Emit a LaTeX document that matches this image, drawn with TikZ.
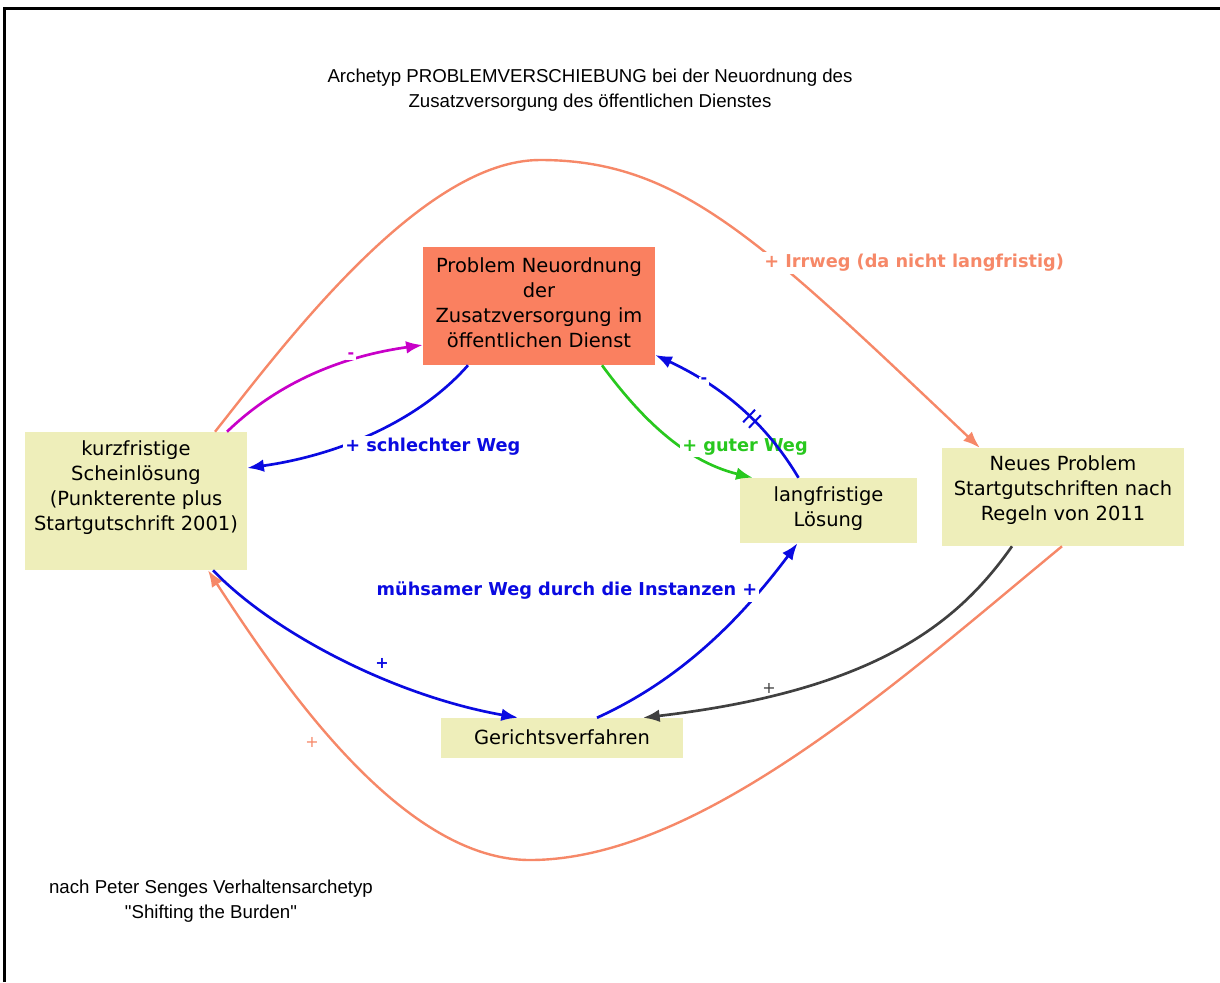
\documentclass[tikz,border=0pt]{standalone}
\usepackage{fontspec}
\setmainfont{DejaVu Sans}
\newfontfamily\tahoma{Liberation Sans}
\usetikzlibrary{arrows.meta,calc,decorations.markings}
\definecolor{salmon}{RGB}{246,136,104}
\definecolor{coral}{RGB}{250,128,96}
\definecolor{pale}{RGB}{238,238,186}
\definecolor{cblue}{RGB}{10,10,225}
\definecolor{cgreen}{RGB}{40,200,30}
\definecolor{cmag}{RGB}{200,0,200}
\definecolor{cgray}{RGB}{64,64,64}
\begin{document}
\begin{tikzpicture}[x=0.75pt,y=-0.75pt,
 box/.style={inner sep=0pt, draw=none},
 ntext/.style={font=\fontsize{14.6}{18.75}\selectfont, align=center, inner sep=0pt},
 conn/.style={line width=2pt, -{Latex[length=12.5pt,width=9.5pt]}},
 sal/.style={line width=1.8pt, draw=salmon, -{Latex[length=12.5pt,width=9.5pt]}},
 lbl/.style={font=\fontsize{13.3}{16}\selectfont\bfseries, fill=white, inner sep=1.5pt},
 sgn/.style={font=\fontsize{12}{13}\selectfont\bfseries, inner sep=1pt},
 ttl/.style={font=\tahoma\fontsize{14}{18.75}\selectfont, align=center, inner sep=0pt}
]
\useasboundingbox (0,0) rectangle (1220,982);
\draw[line width=2pt] (4.7,982) -- (4.7,8.7) -- (1220,8.7);

% title and footnote
\node[ttl] (title) at (590,90.5) {Archetyp PROBLEMVERSCHIEBUNG bei der Neuordnung des\\Zusatzversorgung des öffentlichen Dienstes};
\node[ttl] (foot) at (211,901) {nach Peter Senges Verhaltensarchetyp\\"Shifting the Burden"};

% boxes
\node[box, fill=coral, minimum width=174pt, minimum height=88.5pt] (P) at (539,306) {};
\node[box, fill=pale, minimum width=166.5pt, minimum height=103.5pt] (K) at (136,501) {};
\node[box, fill=pale, minimum width=132.75pt, minimum height=48.75pt] (L) at (828.5,510.5) {};
\node[box, fill=pale, minimum width=181.5pt, minimum height=73.5pt] (N) at (1063,497) {};
\node[box, fill=pale, minimum width=181.5pt, minimum height=30pt] (G) at (562,738) {};

\node[ntext] (Pt) at (539,302.5) {Problem Neuordnung\\der\\Zusatzversorgung im\\öffentlichen Dienst};
\node[ntext] (Kt) at (136,487.5) {kurzfristige\\Scheinlösung\\(Punkterente plus\\Startgutschrift 2001)};
\node[ntext] (Lt) at (828.5,508.5) {langfristige\\Lösung};
\node[ntext] (Nt) at (1063,490.5) {Neues Problem\\Startgutschriften nach\\Regeln von 2011};
\node[ntext] (Gt) at (562,737) {Gerichtsverfahren};

% big salmon loops
\draw[sal] ($(K.north)+(79,0)$) .. controls (280,350) and (420,160) .. (540,160)
  .. controls (680,160) and (760,240) .. ($(N.north west)+(38,0)$);
\node[lbl, text=salmon, anchor=west] (irr) at (762,263) {+ Irrweg (da nicht langfristig)};

\draw[sal] ($(N.south)+(-1,0)$) .. controls (900,680) and (700,860) .. (530,860)
  .. controls (400,860) and (280,680) .. ($(K.south)+(72,0)$);
\node[sgn, text=salmon, font=\fontsize{12}{13}\selectfont] (s9) at (312,742) {+};

% magenta
\draw[conn, cmag] ($(K.north)+(91,0)$) .. controls (270,390) and (330,358) .. ($(P.west)+(0,39)$);
\node[sgn, text=cmag, fill=white] (s1) at (351,356) {-};

% blue bad way
\draw[conn, cblue] ($(P.south)+(-71,0)$) .. controls (420,420) and (340,455) .. ($(K.east)+(0,-33)$);
\node[lbl, text=cblue, anchor=west] (bad) at (343,447) {+ schlechter Weg};

% green good way
\draw[conn, cgreen] ($(P.south)+(63,0)$) .. controls (635,410) and (680,460) .. ($(L.north west)+(13,0)$);
\node[lbl, text=cgreen, anchor=west] (good) at (680,447) {+ guter Weg};

% blue back with delay
\draw[conn, cblue, postaction={decorate}, decoration={markings,
   mark=at position 0.4 with {\draw[-, line width=1.5pt] (-4pt,-6.5pt) -- (-4pt,6.5pt) (2pt,-6.5pt) -- (2pt,6.5pt);}}]
  ($(L.north)+(-30,0)$) .. controls (770,430) and (730,390) .. ($(P.east)+(0,49)$);
\node[sgn, text=cblue, fill=white] (s4) at (704,381) {-};

% blue K -> G
\draw[conn, cblue] ($(K.south)+(77,0)$) .. controls (270,630) and (390,695) .. ($(G.north)+(-44,0)$);
\node[sgn, text=cblue] (s5) at (382,663) {+};

% blue G -> L
\draw[conn, cblue] ($(G.north)+(35,0)$) .. controls (680,680) and (740,620) .. ($(L.south)+(-31,0)$);
\node[lbl, text=cblue] (hard) at (567,591) {mühsamer Weg durch die Instanzen +};

% gray N -> G
\draw[conn, cgray] ($(N.south)+(-51,0)$) .. controls (960,620) and (880,690) .. ($(G.north)+(81,0)$);
\node[sgn, text=cgray, font=\fontsize{12}{13}\selectfont] (s7) at (769,688) {+};
\end{tikzpicture}
\end{document}
